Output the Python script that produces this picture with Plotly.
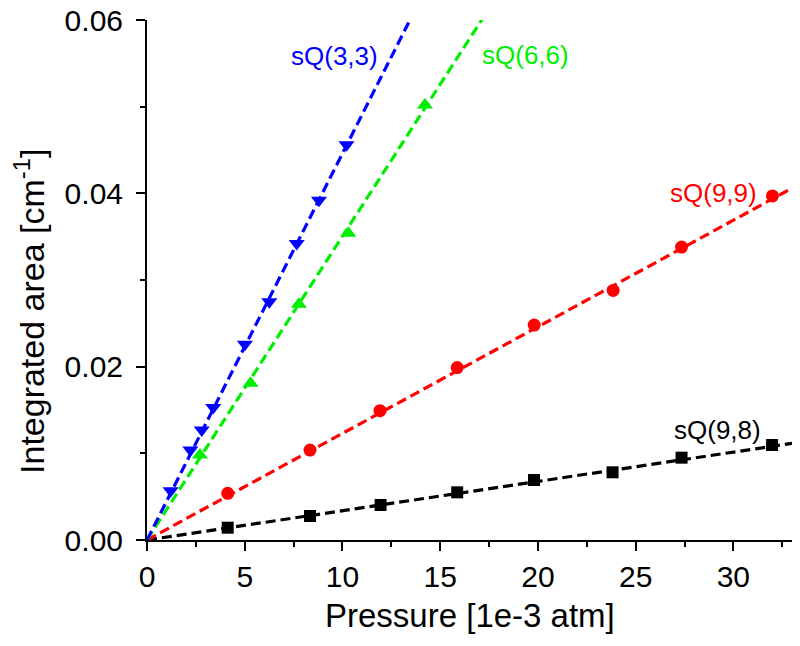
import plotly.graph_objects as go

# ---- data ----
series_names = ["sQ(9,8)", "sQ(9,9)", "sQ(6,6)", "sQ(3,3)"]
colors = ["#000000", "#FF0000", "#00EE00", "#0000FF"]
symbols = ["square", "circle", "triangle-up", "triangle-down"]
marker_sizes = [12, 13, 14, 14]

x_98 = [4.13, 8.34, 11.95, 15.87, 19.80, 23.82, 27.35, 31.98]
y_98 = [0.00142, 0.00277, 0.00404, 0.0055, 0.00692, 0.00781, 0.0095, 0.01096]

x_99 = [4.13, 8.34, 11.92, 15.87, 19.81, 23.85, 27.35, 32.0]
y_99 = [0.00538, 0.01038, 0.01492, 0.0199, 0.0248, 0.0288, 0.0338, 0.0397]

x_66 = [2.71, 5.30, 7.77, 10.30, 14.22]
y_66 = [0.0098, 0.0181, 0.0272, 0.0354, 0.0502]

x_33 = [1.21, 2.22, 2.80, 3.39, 5.01, 6.26, 7.66, 8.80, 10.21]
y_33 = [0.00569, 0.01038, 0.0127, 0.0153, 0.0226, 0.0275, 0.0342, 0.0392, 0.0456]

# linear fits through the origin (slopes)
fit_slopes = [0.000338, 0.00123, 0.003505, 0.00446]
fit_x = [0, 33]

label_x = [29.2, 29.0, 19.39, 9.57]
label_y = [0.0127, 0.0400, 0.0560, 0.0558]

x_ticks = [0, 5, 10, 15, 20, 25, 30]
y_ticks = [0.00, 0.02, 0.04, 0.06]

xs = [x_98, x_99, x_66, x_33]
ys = [y_98, y_99, y_66, y_33]

FONT = "Arial, Liberation Sans, sans-serif"

fig = go.Figure()

for name, c, sym, ms, x, y in zip(series_names, colors, symbols, marker_sizes, xs, ys):
    fig.add_trace(go.Scatter(
        x=x, y=y, mode="markers", name=name,
        marker=dict(symbol=sym, size=ms, color=c, line=dict(width=0)),
        showlegend=False,
    ))

for name, c, k in zip(series_names, colors, fit_slopes):
    fig.add_trace(go.Scatter(
        x=fit_x, y=[k * v for v in fit_x], mode="lines",
        line=dict(color=c, width=3.2, dash="10px,5px"),
        showlegend=False, hoverinfo="skip",
    ))

for name, c, lx, ly in zip(series_names, colors, label_x, label_y):
    fig.add_annotation(x=lx, y=ly, text=name, showarrow=False,
                       font=dict(family=FONT, size=26, color=c),
                       xanchor="center", yanchor="middle")

# axis titles as annotations (positioned in pixels relative to plot area)
fig.add_annotation(
    xref="paper", yref="paper", x=0, y=0.4385, xshift=-117,
    text="Integrated area [cm<sup>-1</sup>]", textangle=-90, showarrow=False,
    font=dict(family=FONT, size=34, color="black"),
    xanchor="center", yanchor="middle",
)
fig.add_annotation(
    xref="paper", yref="paper", x=0.5, y=0, yshift=-75,
    text="Pressure [1e-3 atm]", showarrow=False,
    font=dict(family=FONT, size=33, color="black"),
    xanchor="center", yanchor="middle",
)

axis_common = dict(
    showline=True, linecolor="black", linewidth=2,
    ticks="outside", ticklen=9, tickwidth=2, tickcolor="black",
    showgrid=False, zeroline=False, mirror=False, automargin=False,
    ticklabeloverflow="allow",
    tickfont=dict(family=FONT, size=30, color="black"),
)

fig.update_xaxes(
    range=[0, 33], tickvals=x_ticks, ticktext=[str(v) for v in x_ticks],
    ticklabelstandoff=0,
    minor=dict(ticks="outside", ticklen=5, tickwidth=2, tickcolor="black", dtick=2.5, tick0=0),
    **axis_common,
)
fig.update_yaxes(
    range=[0, 0.06], tickvals=y_ticks, ticktext=[f"{v:.2f}" for v in y_ticks],
    ticklabelstandoff=7,
    minor=dict(ticks="outside", ticklen=5, tickwidth=2, tickcolor="black", dtick=0.01, tick0=0),
    **axis_common,
)

fig.update_layout(
    width=800, height=646,
    margin=dict(l=147, r=8, t=20, b=106),
    paper_bgcolor="white", plot_bgcolor="white",
    font=dict(family=FONT),
)

# remove the browser's default 8px body margin so the figure sits at the page origin
fig.write_html("out.html", config={"displayModeBar": False},
               post_script="document.body.style.margin='0';")
